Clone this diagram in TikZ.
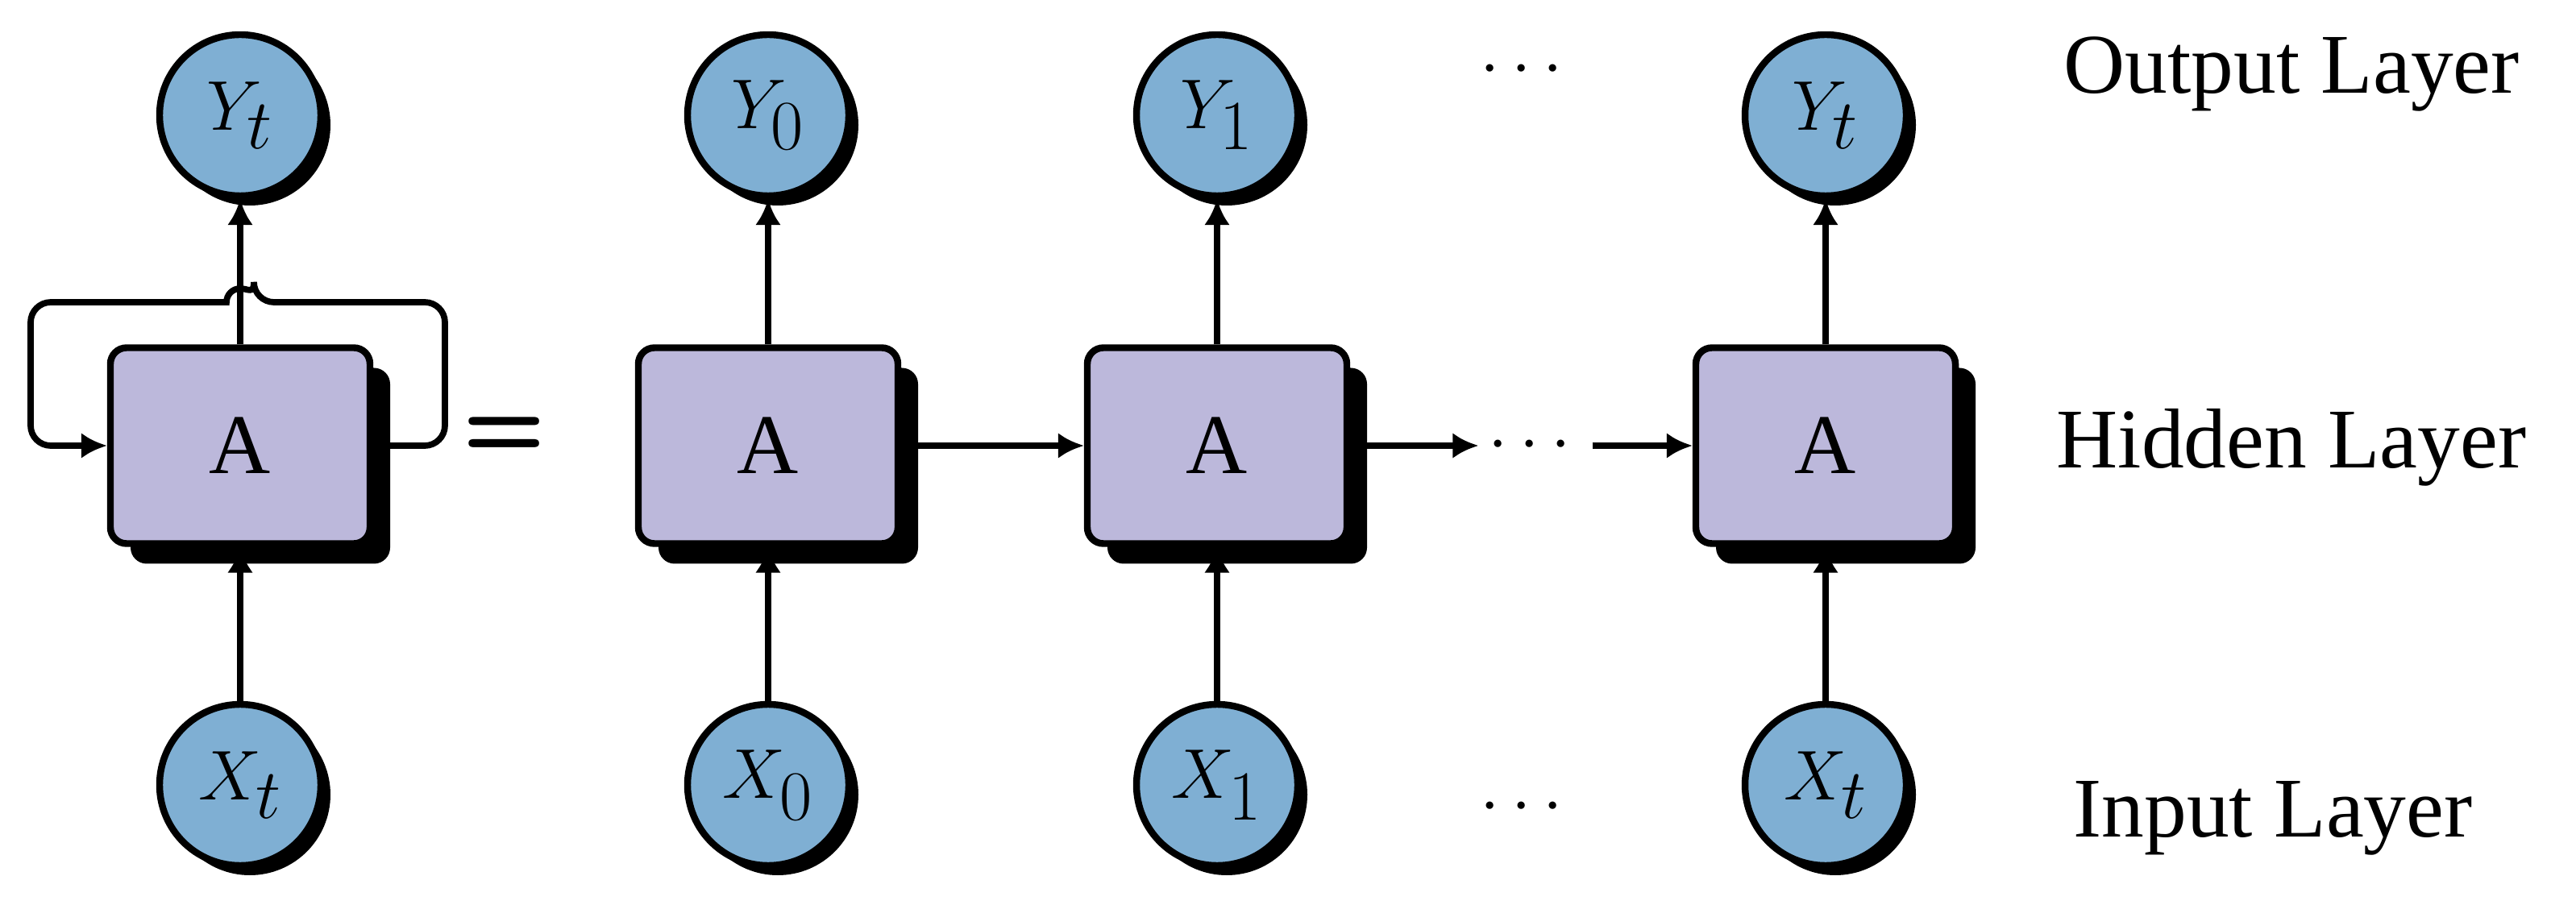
\documentclass[tikz,border=0pt]{standalone}
\usepackage{amsmath,amssymb}
\usepackage{fontspec}
\setmainfont{Liberation Serif}
\usetikzlibrary{shadows,arrows.meta}
\definecolor{cellblue}{HTML}{7FAFD3}
\definecolor{celllilac}{HTML}{BCB8DB}

\begin{document}
\begin{tikzpicture}
        \tikzstyle{unit}=[circle,line width=2.4pt,draw=black,fill=cellblue,minimum size=2.0cm,inner sep=0pt,drop shadow={shadow xshift=0.12cm,shadow yshift=-0.12cm,opacity=1,fill=black},font=\fontsize{34}{38}\selectfont]
        \tikzstyle{cell}=[rectangle,rounded corners=0.2cm,line width=2.4pt,draw=black,fill=celllilac,minimum width=3.22cm,minimum height=2.43cm,drop shadow={shadow xshift=0.25cm,shadow yshift=-0.25cm,opacity=1,fill=black},font=\fontsize{30}{34}\selectfont]
        \tikzstyle{link}=[line width=2.2pt,-{Latex[length=0.32cm,width=0.32cm]}]
        \tikzstyle{layer}=[font=\fontsize{30}{34}\selectfont]
        \useasboundingbox (0,0) rectangle (31.96,11.17);

        % folded network
        \node[cell] (a) at (2.98,5.64) {A};
        \node[unit] (yt) at (2.98,9.74) {$Y_{\scriptstyle t}$};
        \node[unit] (xt) at (2.98,1.43) {$X_{\scriptstyle t}$};
        \draw[link] (xt) -- (a);
        \draw[link] (a) -- (yt);
        \draw[link,rounded corners=0.25cm] (a.east) -- (5.52,5.64) -- (5.52,7.42) -- (3.15,7.42)
            [sharp corners] arc (0:180:0.17) [rounded corners=0.25cm] -- (0.38,7.42) -- (0.38,5.64) -- (a.west);
        \node[font=\sffamily\bfseries\fontsize{34}{34}\selectfont] (eq) at (6.26,5.75) {=};

        % unrolled network
        \node[cell] (a0) at (9.53,5.64) {A};
        \node[cell] (a1) at (15.1,5.64) {A};
        \node[cell] (a2) at (22.65,5.64) {A};
        \node[unit] (y0) at (9.53,9.74) {$Y_{\scriptstyle 0}$};
        \node[unit] (y1) at (15.1,9.74) {$Y_{1}$};
        \node[unit] (y2) at (22.65,9.74) {$Y_{\scriptstyle t}$};
        \node[unit] (x0) at (9.53,1.43) {$X_{\scriptstyle 0}$};
        \node[unit] (x1) at (15.1,1.43) {$X_{1}$};
        \node[unit] (x2) at (22.65,1.43) {$X_{\scriptstyle t}$};
        \foreach \i in {0,1,2} {
            \draw[link] (x\i) -- (a\i);
            \draw[link] (a\i) -- (y\i);
        }
        \node[layer] (dm) at (19.05,5.64) {$\cdots$};
        \node[layer] (dt) at (18.95,10.3) {$\cdots$};
        \node[layer] (db) at (18.95,1.15) {$\cdots$};
        \draw[link] (a0) -- (a1);
        \draw[link] (a1) -- (dm);
        \draw[link] (dm) -- (a2);

        \node[layer] (out) at (28.43,10.25) {Output Layer};
        \node[layer] (hid) at (28.43,5.62) {Hidden Layer};
        \node[layer] (inp) at (28.2,1.02) {Input Layer};
    \end{tikzpicture}
\end{document}
